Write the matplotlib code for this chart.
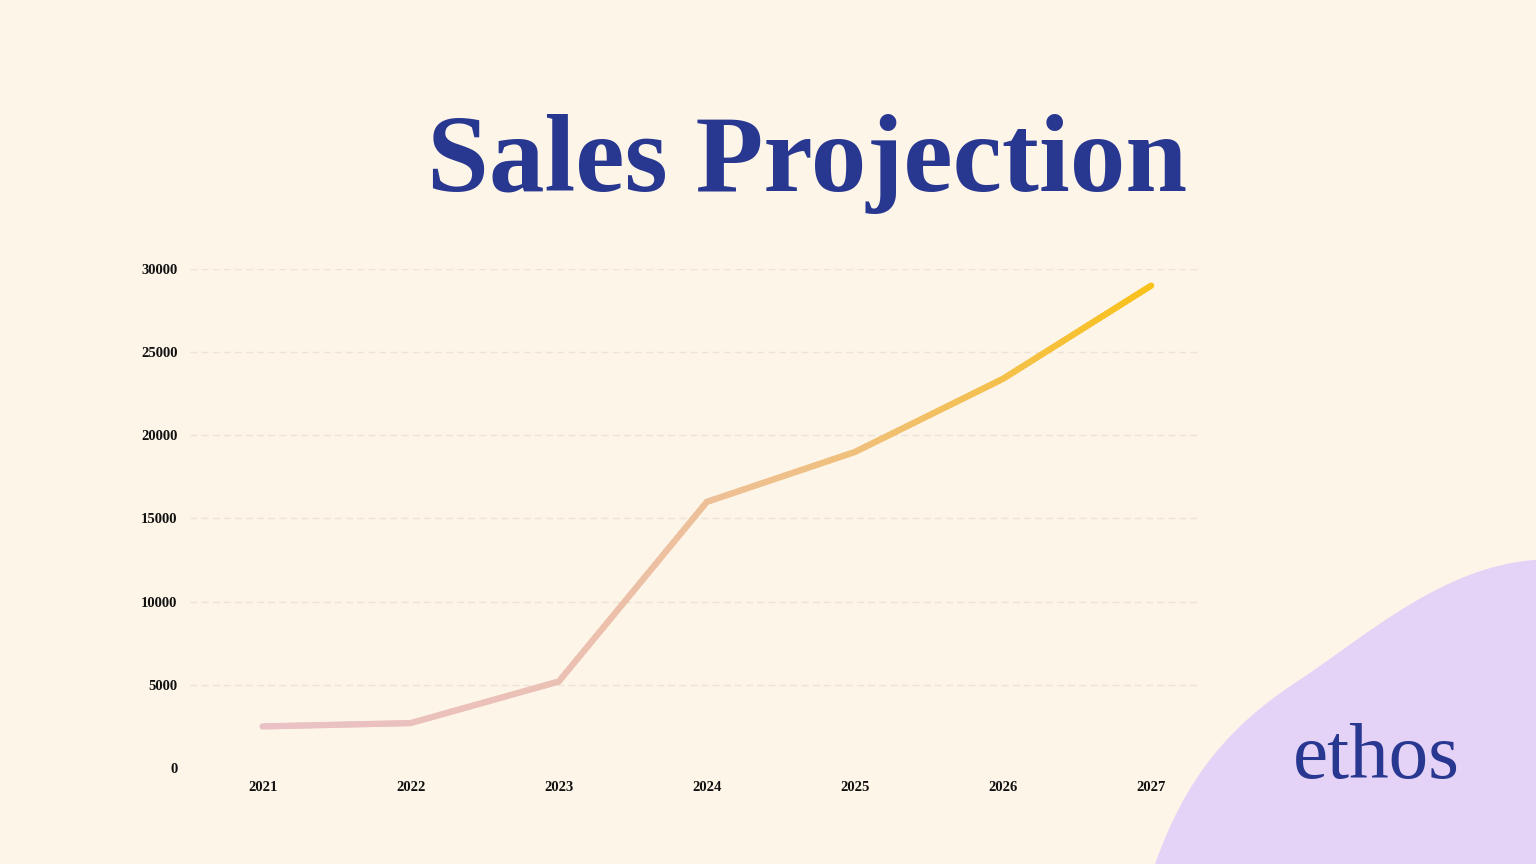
import matplotlib.pyplot as plt
import numpy as np
from matplotlib.collections import LineCollection
from matplotlib.colors import LinearSegmentedColormap
from matplotlib.patches import PathPatch
from matplotlib.path import Path

years = ['2021', '2022', '2023', '2024', '2025', '2026', '2027']
sales = [2500, 2700, 5200, 16000, 19000, 23400, 29000]
y_ticks = [0, 5000, 10000, 15000, 20000, 25000, 30000]

bg = '#FEF5E9'
navy = '#283891'

fig = plt.figure(figsize=(15.36, 8.64), dpi=100, facecolor=bg)

# purple blob in the bottom right corner (decoration)
blob = Path([(0.752, 0.0), (0.772, 0.10), (0.80, 0.16), (0.846, 0.213),
             (0.89, 0.265), (0.94, 0.345), (1.0, 0.352), (1.0, 0.0), (0.752, 0.0)],
            [Path.MOVETO, Path.CURVE4, Path.CURVE4, Path.CURVE4,
             Path.CURVE4, Path.CURVE4, Path.CURVE4, Path.LINETO, Path.CLOSEPOLY])
fig.patches.append(PathPatch(blob, transform=fig.transFigure, facecolor='#E5D2F7',
                             edgecolor='none', zorder=0))

ax = fig.add_axes([0.1237, 0.1111, 0.6576, 0.5776])
ax.set_facecolor('none')

x = np.arange(len(years))
# gradient line: split each segment into short pieces coloured along x
cmap = LinearSegmentedColormap.from_list('g', ['#EAC2C6', '#EBC0B4', '#F0C07C', '#F9C11A'])
xs, ys = [], []
for i in range(len(x) - 1):
    t = np.linspace(0, 1, 40, endpoint=False)
    xs.extend(x[i] + t * (x[i + 1] - x[i]))
    ys.extend(sales[i] + t * (sales[i + 1] - sales[i]))
xs.append(x[-1]); ys.append(sales[-1])
pts = np.column_stack([xs, ys]).reshape(-1, 1, 2)
segs = np.concatenate([pts[:-1], pts[1:]], axis=1)
lc = LineCollection(segs, cmap=cmap, linewidth=4.5, capstyle='round', joinstyle='round')
lc.set_array(np.array(xs[:-1]) / x[-1])
lc.set_clim(0, 1)
ax.add_collection(lc)

ax.set_xlim(-0.49, 6.33)
ax.set_ylim(0, 30000)
ax.set_xticks(x)
ax.set_xticklabels(years)
ax.set_yticks(y_ticks)
ax.set_yticklabels([str(v) for v in y_ticks])
ax.tick_params(length=0, labelsize=10.5, pad=9)
for lab in ax.get_xticklabels() + ax.get_yticklabels():
    lab.set_fontfamily('Liberation Serif')
    lab.set_fontweight('bold')
    lab.set_color('#111111')
for s in ax.spines.values():
    s.set_visible(False)
for v in y_ticks[1:]:
    ax.axhline(v, color='#EEE3D6', linewidth=1, linestyle=(0, (5, 3)), zorder=0)

fig.text(0.5257, 0.779, 'Sales Projection', ha='center', va='baseline', fontsize=80,
         fontfamily='Liberation Serif', fontweight='bold', color=navy)
fig.text(0.8962, 0.0995, 'ethos', ha='center', va='baseline', fontsize=57,
         fontfamily='Liberation Serif', color=navy)

fig.savefig('out.png', dpi=100, facecolor=bg)
